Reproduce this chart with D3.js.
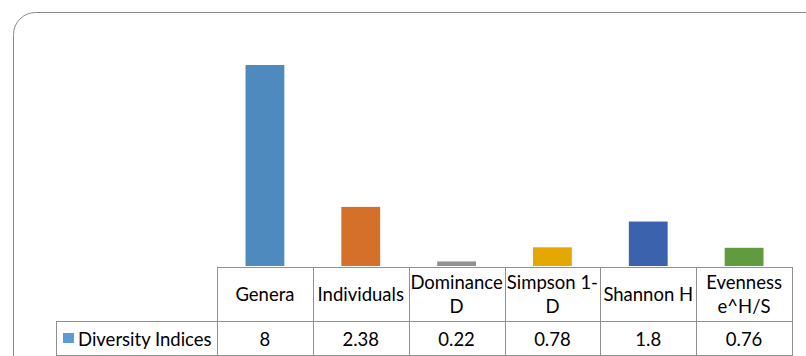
<!DOCTYPE html>
<html><head><meta charset="utf-8">
<script src="https://cdn.jsdelivr.net/npm/d3@7"></script>
<style>html,body{margin:0;padding:0;background:#fff;overflow:hidden}</style>
</head><body>
<svg id="c" width="806" height="356"></svg>
<script>
const categories = [["Genera"], ["Individuals"], ["Dominance", "D"], ["Simpson 1-", "D"], ["Shannon H"], ["Evenness", "e^H/S"]];
const valueLabels = ["8", "2.38", "0.22", "0.78", "1.8", "0.76"];
const values = [8, 2.38, 0.22, 0.78, 1.8, 0.76];
const barColors = ["#4F8ABE", "#D5702B", "#919191", "#E4A800", "#3B63AD", "#609C3E"];
const seriesName = "Diversity Indices";
const legendColor = "#5B9BD5";

const svg = d3.select("#c");
const font = "Lato, 'Open Sans', sans-serif";

// outer rounded frame
svg.append("rect").attr("x", 13.5).attr("y", 12.5).attr("width", 820).attr("height", 380)
  .attr("rx", 22).attr("ry", 22).attr("fill", "none").attr("stroke", "#8a8a8a").attr("stroke-width", 1);

const tableLeft = 217, tableRight = 792, headTop = 267, rowTop = 321, rowBottom = 355, legendLeft = 56;
const x = d3.scaleBand().domain(d3.range(values.length)).range([tableLeft, tableRight]).paddingInner(0).paddingOuter(0);
const y = d3.scaleLinear().domain([0, 8]).range([headTop, 65]);

const bw = x.bandwidth() * 0.405;
svg.append("g").selectAll("rect").data(values).join("rect")
  .attr("x", (d, i) => x(i) + (x.bandwidth() - bw) / 2)
  .attr("y", d => y(d))
  .attr("width", bw)
  .attr("height", d => y(0) - y(d) - 1)
  .attr("fill", (d, i) => barColors[i]);

// table lines
const lineColor = "#8f8f8f";
const g = svg.append("g").attr("stroke", lineColor).attr("stroke-width", 1).attr("shape-rendering", "crispEdges");
g.append("line").attr("x1", tableLeft).attr("x2", tableRight).attr("y1", headTop + 0.5).attr("y2", headTop + 0.5);
g.append("line").attr("x1", legendLeft).attr("x2", tableRight).attr("y1", rowTop + 0.5).attr("y2", rowTop + 0.5);
g.append("line").attr("x1", legendLeft).attr("x2", tableRight).attr("y1", rowBottom + 0.5).attr("y2", rowBottom + 0.5);
g.append("line").attr("x1", legendLeft + 0.5).attr("x2", legendLeft + 0.5).attr("y1", rowTop).attr("y2", rowBottom + 1);
const vx = d3.range(values.length).map(i => x(i)).concat([tableRight]);
g.selectAll(".v").data(vx).join("line")
  .attr("x1", d => Math.round(d) + 0.5).attr("x2", d => Math.round(d) + 0.5)
  .attr("y1", headTop).attr("y2", rowBottom + 1);

// header labels
const fs = 18.5;
const hdr = svg.append("g").attr("font-family", font).attr("font-size", fs).attr("fill", "#000").attr("text-anchor", "middle");
categories.forEach((lines, i) => {
  const cx = x(i) + x.bandwidth() / 2;
  const mid = (headTop + rowTop) / 2;
  const lh = 24;
  lines.forEach((t, j) => {
    hdr.append("text").attr("x", cx)
      .attr("y", mid + (j - (lines.length - 1) / 2) * lh)
      .attr("dy", "0.36em").text(t);
  });
});
// value row
svg.append("g").attr("font-family", font).attr("font-size", fs).attr("fill", "#000").attr("text-anchor", "middle")
  .selectAll("text").data(valueLabels).join("text")
  .attr("x", (d, i) => x(i) + x.bandwidth() / 2)
  .attr("y", (rowTop + rowBottom) / 2 + 1).attr("dy", "0.36em").text(d => d);

// legend key
svg.append("rect").attr("x", 63).attr("y", 333).attr("width", 11).attr("height", 10).attr("fill", legendColor);
svg.append("text").attr("x", 78).attr("y", (rowTop + rowBottom) / 2 + 1).attr("dy", "0.36em")
  .attr("font-family", font).attr("font-size", fs).attr("fill", "#000").text(seriesName);
</script>
</body></html>
